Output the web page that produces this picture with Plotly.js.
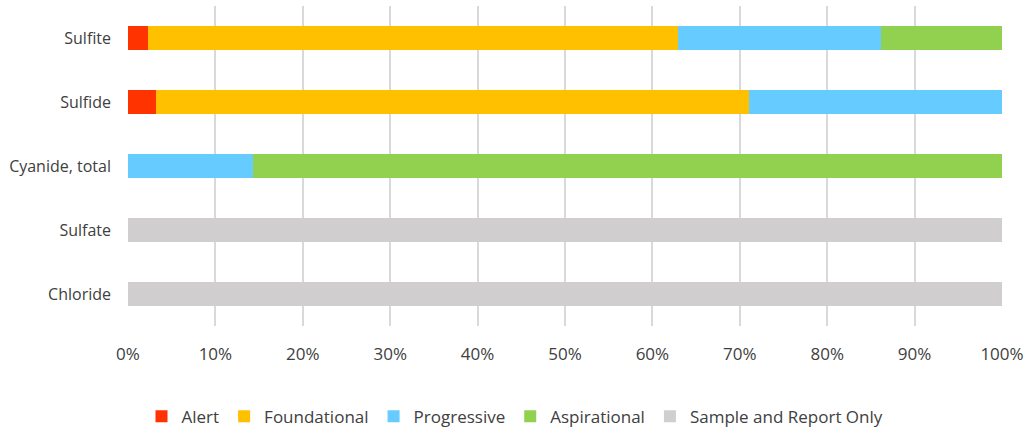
<!DOCTYPE html>
<html><head><meta charset="utf-8">
<script src="https://cdn.plot.ly/plotly-3.0.1.min.js"></script>
<style>html,body{margin:0;padding:0;background:#fff;}#chart{width:1030px;height:430px;}</style>
</head><body><div id="chart"></div>
<script>
const categories = ["Sulfite", "Sulfide", "Cyanide, total", "Sulfate", "Chloride"];
const seriesNames = ["Alert", "Foundational", "Progressive", "Aspirational", "Sample and Report Only"];
const alert = [2.3, 3.2, 0, 0, 0];
const foundational = [60.6, 67.9, 0, 0, 0];
const progressive = [23.3, 28.9, 14.3, 0, 0];
const aspirational = [13.8, 0, 85.7, 0, 0];
const sampleOnly = [0, 0, 0, 100, 100];
const colors = ["#FF3300", "#FFC000", "#66CCFF", "#92D050", "#D0CECE"];
const tickVals = [0,10,20,30,40,50,60,70,80,90,100];
const tickText = tickVals.map(v => v + "%");

const values = [alert, foundational, progressive, aspirational, sampleOnly];
const traces = values.map((vals, i) => ({
  type: "bar", orientation: "h", name: seriesNames[i],
  y: categories, x: vals, marker: {color: colors[i]},
  hoverinfo: "x+name"
}));
const font = {family: "Open Sans, sans-serif", size: 16, color: "#404040"};
Plotly.newPlot("chart", traces, {
  width: 1030, height: 430, barmode: "stack", bargap: 0.61,
  margin: {l: 128, r: 28, t: 6, b: 104, autoexpand: false},
  paper_bgcolor: "#fff", plot_bgcolor: "#fff", font: font,
  xaxis: {range: [0, 100], tickvals: tickVals, ticktext: tickText, showgrid: true,
    gridcolor: "#D9D9D9", gridwidth: 2, zeroline: false, showline: false, ticks: "", ticklen: 0,
    ticklabelstandoff: 16, tickfont: {size: 17}, fixedrange: true, automargin: false},
  yaxis: {autorange: "reversed", categoryorder: "array", categoryarray: categories, automargin: false,
    showgrid: false, zeroline: false, showline: false, ticks: "", ticklabelstandoff: 16, tickfont: {size: 16}},
  legend: {orientation: "h", x: 0.5, xanchor: "center", xref: "container", y: 0.031, yanchor: "middle", yref: "container",
    font: {size: 17}, traceorder: "normal", itemwidth: 30},
  showlegend: true
}, {displayModeBar: false, staticPlot: true});
</script></body></html>
